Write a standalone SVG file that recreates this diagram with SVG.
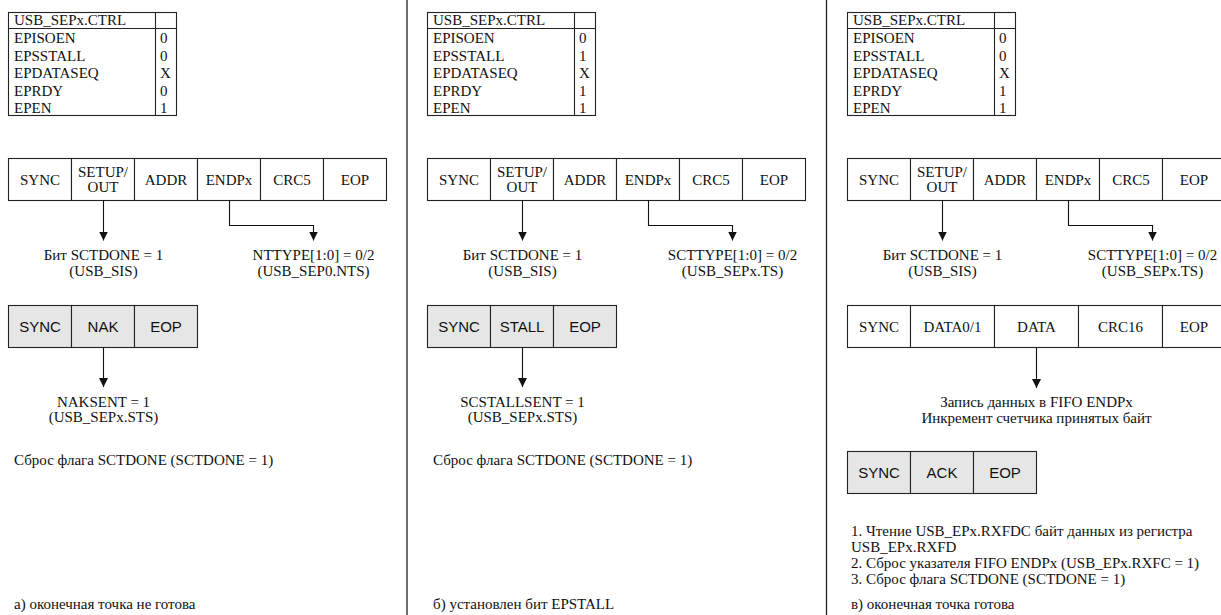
<svg xmlns="http://www.w3.org/2000/svg" width="1221" height="615" viewBox="0 0 1221 615">
<style>
.bx{fill:#fff;stroke:#222;stroke-width:1.1}
.gb{fill:#e6e6e6;stroke:#222;stroke-width:1.1}
.ln{fill:none;stroke:#222;stroke-width:1.1}
.cn{fill:none;stroke:#111;stroke-width:1.1}
.dv{stroke:#222;stroke-width:1.3}
.t{font-family:"Liberation Serif","Times New Roman",serif;font-size:15px;fill:#111}
.c{text-anchor:middle}
.s{font-family:"Liberation Sans",Arial,sans-serif;font-size:15px;fill:#111;text-anchor:middle}
</style>
<defs>
<marker id="ah" viewBox="0 0 10 10" refX="10" refY="5" markerWidth="9" markerHeight="9" markerUnits="userSpaceOnUse" orient="auto">
<path d="M0,0 L10,5 L0,10 z" fill="#111"/>
</marker>
<g id="tbl">
<rect class="bx" x="8.5" y="12.5" width="168" height="103"/>
<line class="ln" x1="8.5" y1="28.5" x2="176.5" y2="28.5"/>
<line class="ln" x1="155.5" y1="12.5" x2="155.5" y2="115.5"/>
<text class="t" x="14" y="25">USB_SEPx.CTRL</text>
<text class="t" x="14" y="43">EPISOEN</text>
<text class="t" x="14" y="60.5">EPSSTALL</text>
<text class="t" x="14" y="78">EPDATASEQ</text>
<text class="t" x="14" y="95.5">EPRDY</text>
<text class="t" x="14" y="113">EPEN</text>
</g>
<g id="tok">
<rect class="bx" x="8.5" y="158.5" width="63" height="42"/>
<rect class="bx" x="71.5" y="158.5" width="63" height="42"/>
<rect class="bx" x="134.5" y="158.5" width="63" height="42"/>
<rect class="bx" x="197.5" y="158.5" width="63" height="42"/>
<rect class="bx" x="260.5" y="158.5" width="63" height="42"/>
<rect class="bx" x="323.5" y="158.5" width="63" height="42"/>
<text class="t c" x="40" y="184.5">SYNC</text>
<text class="t c" x="103" y="176.5">SETUP/</text>
<text class="t c" x="103" y="192">OUT</text>
<text class="t c" x="166" y="184.5">ADDR</text>
<text class="t c" x="229" y="184.5">ENDPx</text>
<text class="t c" x="292" y="184.5">CRC5</text>
<text class="t c" x="355" y="184.5">EOP</text>
</g>
<g id="hs">
<rect class="gb" x="8.5" y="305.5" width="63" height="42"/>
<rect class="gb" x="71.5" y="305.5" width="63" height="42"/>
<rect class="gb" x="134.5" y="305.5" width="63" height="42"/>
</g>
</defs>

<g id="dividers">
<line class="dv" x1="407" y1="0" x2="407" y2="615"/>
<line class="dv" x1="826.5" y1="0" x2="826.5" y2="615"/>
</g>

<!-- Panel a -->
<g id="panel-a">
<g id="a-ctrl"><use href="#tbl"/>
<text class="t" x="160" y="43">0</text><text class="t" x="160" y="60.5">0</text><text class="t" x="160" y="78">X</text><text class="t" x="160" y="95.5">0</text><text class="t" x="160" y="113">1</text></g>
<g id="a-token"><use href="#tok"/></g>
<g id="a-sctdone"><text class="t c" x="103.5" y="260">Бит SCTDONE = 1</text><text class="t c" x="103.5" y="276">(USB_SIS)</text></g>
<g id="a-type"><text class="t c" x="313.5" y="260">NTTYPE[1:0] = 0/2</text><text class="t c" x="313.5" y="276">(USB_SEP0.NTS)</text></g>
<g id="a-nak"><use href="#hs"/><text class="s" x="40" y="331.5">SYNC</text><text class="s" x="103" y="331.5">NAK</text><text class="s" x="166" y="331.5">EOP</text></g>
<g id="a-naksent"><text class="t c" x="103.5" y="406.5">NAKSENT = 1</text><text class="t c" x="103.5" y="422">(USB_SEPx.STS)</text></g>
<g id="a-reset"><text class="t" x="14" y="465">Сброс флага SCTDONE (SCTDONE = 1)</text></g>
<g id="a-caption"><text class="t" x="14" y="609">а) оконечная точка не готова</text></g>
<g id="a-connectors">
<path class="cn" d="M103.5,200.5 V240.5" marker-end="url(#ah)"/>
<path class="cn" d="M229.5,200.5 V225.5 H313.5 V240.5" marker-end="url(#ah)"/>
<path class="cn" d="M103.5,347.5 V387" marker-end="url(#ah)"/>
</g>
</g>

<!-- Panel b -->
<g id="panel-b" transform="translate(419,0)">
<g id="b-ctrl"><use href="#tbl"/>
<text class="t" x="160" y="43">0</text><text class="t" x="160" y="60.5">1</text><text class="t" x="160" y="78">X</text><text class="t" x="160" y="95.5">1</text><text class="t" x="160" y="113">1</text></g>
<g id="b-token"><use href="#tok"/></g>
<g id="b-sctdone"><text class="t c" x="103.5" y="260">Бит SCTDONE = 1</text><text class="t c" x="103.5" y="276">(USB_SIS)</text></g>
<g id="b-type"><text class="t c" x="313.5" y="260">SCTTYPE[1:0] = 0/2</text><text class="t c" x="313.5" y="276">(USB_SEPx.TS)</text></g>
<g id="b-stall"><use href="#hs"/><text class="s" x="40" y="331.5">SYNC</text><text class="s" x="103" y="331.5">STALL</text><text class="s" x="166" y="331.5">EOP</text></g>
<g id="b-stallsent"><text class="t c" x="103.5" y="406.5">SCSTALLSENT = 1</text><text class="t c" x="103.5" y="422">(USB_SEPx.STS)</text></g>
<g id="b-reset"><text class="t" x="14" y="465">Сброс флага SCTDONE (SCTDONE = 1)</text></g>
<g id="b-caption"><text class="t" x="14" y="609">б) установлен бит EPSTALL</text></g>
<g id="b-connectors">
<path class="cn" d="M103.5,200.5 V240.5" marker-end="url(#ah)"/>
<path class="cn" d="M229.5,200.5 V225.5 H313.5 V240.5" marker-end="url(#ah)"/>
<path class="cn" d="M103.5,347.5 V387" marker-end="url(#ah)"/>
</g>
</g>

<!-- Panel c -->
<g id="panel-c" transform="translate(839,0)">
<g id="c-ctrl"><use href="#tbl"/>
<text class="t" x="160" y="43">0</text><text class="t" x="160" y="60.5">0</text><text class="t" x="160" y="78">X</text><text class="t" x="160" y="95.5">1</text><text class="t" x="160" y="113">1</text></g>
<g id="c-token"><use href="#tok"/></g>
<g id="c-sctdone"><text class="t c" x="103.5" y="260">Бит SCTDONE = 1</text><text class="t c" x="103.5" y="276">(USB_SIS)</text></g>
<g id="c-type"><text class="t c" x="313.5" y="260">SCTTYPE[1:0] = 0/2</text><text class="t c" x="313.5" y="276">(USB_SEPx.TS)</text></g>
<g id="c-data">
<rect class="bx" x="8.5" y="305.5" width="63" height="42"/>
<rect class="bx" x="71.5" y="305.5" width="84" height="42"/>
<rect class="bx" x="155.5" y="305.5" width="84" height="42"/>
<rect class="bx" x="239.5" y="305.5" width="84" height="42"/>
<rect class="bx" x="323.5" y="305.5" width="63" height="42"/>
<text class="t c" x="40" y="331.5">SYNC</text>
<text class="t c" x="113.5" y="331.5">DATA0/1</text>
<text class="t c" x="197.5" y="331.5">DATA</text>
<text class="t c" x="281.5" y="331.5">CRC16</text>
<text class="t c" x="355" y="331.5">EOP</text>
</g>
<g id="c-fifo"><text class="t c" x="197.5" y="406.5">Запись данных в FIFO ENDPx</text><text class="t c" x="197.5" y="422.5">Инкремент счетчика принятых байт</text></g>
<g id="c-ack">
<rect class="gb" x="8.5" y="451.5" width="63" height="42"/>
<rect class="gb" x="71.5" y="451.5" width="63" height="42"/>
<rect class="gb" x="134.5" y="451.5" width="63" height="42"/>
<text class="s" x="40" y="477.5">SYNC</text><text class="s" x="103" y="477.5">ACK</text><text class="s" x="166" y="477.5">EOP</text>
</g>
<g id="c-steps">
<text class="t" x="12" y="535.5">1. Чтение USB_EPx.RXFDC байт данных из регистра</text>
<text class="t" x="12" y="551.5">USB_EPx.RXFD</text>
<text class="t" x="12" y="568">2. Сброс указателя FIFO ENDPx (USB_EPx.RXFC = 1)</text>
<text class="t" x="12" y="584">3. Сброс флага SCTDONE (SCTDONE = 1)</text>
</g>
<g id="c-caption"><text class="t" x="12" y="609">в) оконечная точка готова</text></g>
<g id="c-connectors">
<path class="cn" d="M103.5,200.5 V240.5" marker-end="url(#ah)"/>
<path class="cn" d="M229.5,200.5 V225.5 H313.5 V240.5" marker-end="url(#ah)"/>
<path class="cn" d="M197.5,347.5 V388" marker-end="url(#ah)"/>
</g>
</g>
</svg>
